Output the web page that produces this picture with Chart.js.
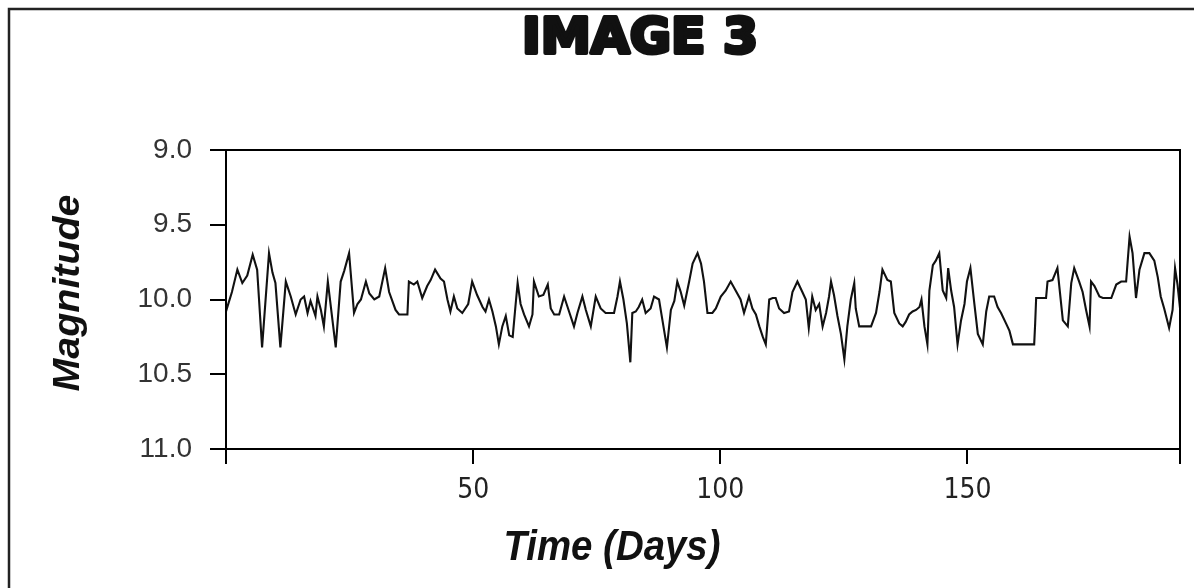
<!DOCTYPE html>
<html>
<head>
<meta charset="utf-8">
<script src="https://cdn.jsdelivr.net/npm/chart.js@4.4.0/dist/chart.umd.min.js"></script>
<style>
  html, body { margin: 0; padding: 0; background: #fff; }
  #wrap { width: 1194px; height: 588px; position: relative; }
</style>
</head>
<body>
<div id="wrap"><canvas id="lightCurve"></canvas></div>
<script>
// Light curve readings (time in days, magnitude)
const days = [
  0, 1.2, 2.3, 3.3, 4.3, 5.4, 6.3, 7.3, 8.7, 9.4, 10, 11, 12.1, 13.1, 14.1, 15.1, 15.8, 16.5, 17.1, 18.1,
  18.5, 19.2, 19.8, 20.6, 22.2, 23.2, 23.9, 24.9, 25.9, 26.6, 27.3, 28.3, 29, 30, 31, 32.2, 33, 34.3, 35, 36.7,
  37, 38, 38.7, 39.7, 40.7, 41.4, 42.3, 43.4, 44.1, 44.8, 45.4, 46.1, 46.8, 47.8, 49, 49.8, 50.8, 51.9, 52.5, 53.2,
  53.9, 54.6, 55.2, 55.9, 56.6, 57.3, 58, 58.6, 59, 59.6, 60.3, 61.3, 62, 62.3, 63.3, 64.2, 65.1, 65.7, 66.4, 67.4,
  68.4, 69.4, 70.4, 71.1, 72.1, 72.8, 73.8, 74.8, 75.8, 76.8, 78.5, 79.2, 79.7, 80.4, 81.1, 81.8, 82.2, 82.9, 83.5, 84.2,
  84.9, 85.9, 86.6, 87.6, 88.3, 89.2, 90, 90.7, 91.3, 92, 92.7, 93.7, 94.4, 95.4, 96.1, 96.7, 97.4, 98.4, 99.1, 100.1,
  101.1, 102.1, 103.1, 104.1, 104.8, 105.8, 106.5, 107.2, 107.9, 108.6, 109.2, 109.9, 110.6, 111.2, 111.9, 112.9, 113.9, 114.6, 115.6, 116.6,
  117.3, 117.9, 118.6, 119.3, 120, 120.7, 121.4, 122, 122.4, 123, 123.7, 124.4, 125.1, 125.7, 126.4, 127.1, 127.4, 128.1, 130.5, 131.5,
  132.2, 132.8, 133.8, 134.5, 135.2, 136.2, 136.9, 137.5, 138.2, 138.9, 139.6, 140.3, 140.7, 141.3, 141.9, 142.3, 143, 143.6, 144.3, 145,
  145.7, 146.1, 146.7, 147.3, 148, 148.7, 149.4, 149.9, 150.6, 151.4, 152.1, 153.1, 153.8, 154.4, 155.4, 156.1, 156.8, 157.8, 158.5, 159.2,
  163.5, 163.7, 163.9, 165.9, 166.2, 167.2, 168.2, 169.3, 170.3, 171, 171.6, 172.6, 173.3, 174, 174.7, 175, 175.7, 176.7, 177.4, 179.1,
  180.1, 181.1, 182.1, 182.4, 182.8, 183.4, 184.1, 184.8, 185.8, 186.8, 187.8, 188.5, 189.1, 189.8, 190.8, 191.5, 192, 192.5, 193.1
];
const magnitudes = [
  10.08, 9.95, 9.80, 9.89, 9.84, 9.70, 9.80, 10.32, 9.69, 9.82, 9.89, 10.32, 9.88, 9.98, 10.10, 10.00, 9.98, 10.09, 10.01, 10.11,
  9.98, 10.07, 10.18, 9.88, 10.32, 9.88, 9.81, 9.69, 10.09, 10.03, 10.00, 9.88, 9.96, 10.00, 9.98, 9.79, 9.95, 10.07, 10.10, 10.10,
  9.88, 9.90, 9.88, 9.99, 9.91, 9.87, 9.80, 9.86, 9.88, 10.00, 10.08, 9.98, 10.06, 10.09, 10.03, 9.88, 9.97, 10.05, 10.08, 10.00,
  10.08, 10.18, 10.30, 10.18, 10.11, 10.24, 10.25, 10.03, 9.89, 10.03, 10.10, 10.18, 10.10, 9.88, 9.98, 9.97, 9.90, 10.06, 10.10, 10.10,
  9.98, 10.08, 10.18, 10.09, 9.98, 10.07, 10.18, 9.98, 10.06, 10.09, 10.09, 9.98, 9.88, 10.00, 10.16, 10.42, 10.09, 10.08, 10.05, 10.00,
  10.09, 10.06, 9.98, 10.00, 10.14, 10.32, 10.07, 10.01, 9.88, 9.95, 10.04, 9.88, 9.76, 9.69, 9.76, 9.88, 10.09, 10.09, 10.06, 9.98,
  9.94, 9.88, 9.94, 10.00, 10.09, 9.98, 10.06, 10.10, 10.18, 10.25, 10.30, 10.00, 9.99, 9.99, 10.06, 10.09, 10.08, 9.95, 9.88, 9.95,
  10.00, 10.19, 9.98, 10.07, 10.03, 10.18, 10.09, 9.98, 9.88, 9.97, 10.11, 10.23, 10.40, 10.18, 10.00, 9.89, 10.06, 10.18, 10.18, 10.09,
  9.95, 9.80, 9.87, 9.88, 10.09, 10.16, 10.18, 10.15, 10.10, 10.08, 10.07, 10.05, 10.00, 10.18, 10.30, 9.94, 9.77, 9.74, 9.69, 9.94,
  9.99, 9.79, 9.94, 10.05, 10.30, 10.14, 10.03, 9.88, 9.79, 10.03, 10.23, 10.30, 10.08, 9.98, 9.98, 10.05, 10.09, 10.16, 10.21, 10.30,
  10.30, 10.16, 9.99, 9.99, 9.88, 9.87, 9.79, 10.14, 10.18, 9.89, 9.79, 9.88, 9.95, 10.07, 10.18, 9.88, 9.91, 9.98, 9.99, 9.99,
  9.90, 9.88, 9.88, 9.75, 9.58, 9.69, 9.99, 9.80, 9.69, 9.69, 9.74, 9.85, 9.98, 10.06, 10.19, 10.07, 9.79, 9.90, 10.09
];
const xTicks = [0, 50, 100, 150, 193];
const xLabels = ['', '50', '100', '150', ''];
const yTicks = [9.0, 9.5, 10.0, 10.5, 11.0];

const titleText = 'IMAGE 3';
const xTitle = 'Time (Days)';
const yTitle = 'Magnitude';

// draws text squeezed/stretched to a given width, optional outline to fatten it
function fitText(ctx, text, cx, cy, width, font, angle, fatten) {
    ctx.save();
    ctx.font = font;
    const w = ctx.measureText(text).width;
    ctx.translate(cx, cy);
    if (angle) ctx.rotate(angle);
    ctx.scale(width / w, 1);
    ctx.textAlign = 'center';
    ctx.textBaseline = 'middle';
    ctx.fillStyle = '#111';
    ctx.fillText(text, 0, 0);
    if (fatten) {
        ctx.strokeStyle = '#111';
        ctx.lineWidth = fatten;
        ctx.lineJoin = 'round';
        ctx.strokeText(text, 0, 0);
    }
    ctx.restore();
}

const decorPlugin = {
    id: 'decor',
    beforeDraw(chart) {
        const ctx = chart.ctx;
        ctx.save();
        ctx.fillStyle = '#fff';
        ctx.fillRect(0, 0, chart.width, chart.height);
        // outer frame (cut at right/bottom like the scan)
        ctx.strokeStyle = '#222';
        ctx.lineWidth = 2.5;
        ctx.strokeRect(9, 9, 1400, 800);
        ctx.restore();
    },
    afterDraw(chart) {
        const ctx = chart.ctx;
        const a = chart.chartArea;
        ctx.save();
        ctx.strokeStyle = '#000';
        ctx.lineWidth = 2;
        ctx.strokeRect(a.left, a.top, a.right - a.left, a.bottom - a.top);
        ctx.restore();
        fitText(ctx, titleText, 640, 40, 236, 'bold 50px "DejaVu Sans"', 0, 4);
        fitText(ctx, xTitle, 612, 548, 217, 'italic bold 42px "Liberation Sans"');
        fitText(ctx, yTitle, 69, 293, 197, 'italic bold 36px "Liberation Sans"', -Math.PI / 2);
    }
};

const ctx = document.getElementById('lightCurve').getContext('2d');
const lightCurve = new Chart(ctx, {
    type: 'line',
    data: {
        datasets: [{
            data: days.map((d, i) => ({ x: d, y: magnitudes[i] })),
            borderColor: '#111',
            borderWidth: 2.1,
            pointRadius: 0,
            tension: 0,
            fill: false
        }]
    },
    options: {
        responsive: true,
        maintainAspectRatio: false,
        animation: false,
        layout: { padding: { top: 150, right: 14, left: 0, bottom: 0 } },
        plugins: {
            legend: { display: false },
            tooltip: { enabled: false }
        },
        scales: {
            x: {
                type: 'linear',
                min: 0,
                max: 193,
                afterBuildTicks: s => { s.ticks = xTicks.map(v => ({ value: v })); },
                afterFit: s => { s.height = 139; },
                ticks: {
                    autoSkip: false,
                    maxRotation: 0,
                    padding: 10,
                    color: '#222',
                    font: { family: '"Liberation Sans Narrow", "DejaVu Sans Condensed", "Liberation Sans"', size: 28 },
                    callback: v => xLabels[xTicks.indexOf(v)]
                },
                grid: { drawOnChartArea: false, drawTicks: true, tickLength: 15, color: '#000', lineWidth: 2 },
                border: { display: true, color: '#000', width: 2 }
            },
            y: {
                min: 9,
                max: 11,
                reverse: true,
                afterBuildTicks: s => { s.ticks = yTicks.map(v => ({ value: v })); },
                afterFit: s => { s.width = 226; },
                ticks: {
                    padding: 18,
                    color: '#333',
                    font: { family: '"Liberation Sans", Arial', size: 28 },
                    callback: v => v.toFixed(1)
                },
                grid: { drawOnChartArea: false, drawTicks: true, tickLength: 16, color: '#000', lineWidth: 2 },
                border: { display: true, color: '#000', width: 2 }
            }
        }
    },
    plugins: [decorPlugin]
});
</script>
</body>
</html>
